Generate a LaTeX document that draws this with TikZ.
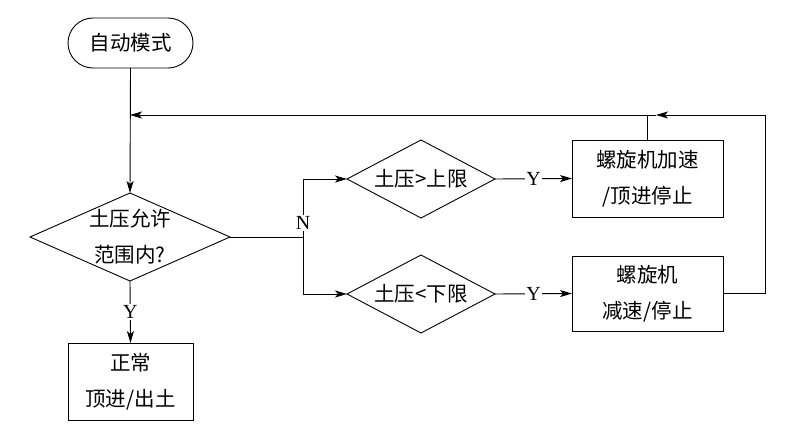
\documentclass[tikz,border=0pt]{standalone}
\usepackage{fontspec}
\setmainfont{Liberation Serif}
\newfontfamily\cjk{Noto Sans CJK SC}
\usetikzlibrary{shapes.geometric,arrows.meta}
\begin{document}
\begin{tikzpicture}[x=1pt,y=-1pt,
  line width=0.9pt,
  every node/.style={inner sep=0pt, outer sep=0pt},
  txt/.style={font=\cjk\fontsize{20.5}{36}\selectfont, align=center},
  term/.style={draw, rounded corners=25pt, minimum width=125pt, minimum height=50pt, txt},
  proc/.style={draw, minimum width=151pt, minimum height=77pt, txt},
  dec/.style={draw, diamond, minimum width=148pt, minimum height=78pt, aspect=1.9},
  arr/.style={-{Stealth[length=12pt,width=7pt,inset=3pt]}},
  lab/.style={fill=white, font=\fontsize{20}{20}\selectfont, inner sep=1pt}]
\useasboundingbox (0,0) rectangle (803,447);
\node[term] (start) at (130.5,43) {自动模式};
\node[dec, minimum width=200pt, minimum height=88pt, aspect=2.27,
  label={[txt]center:土压允许\\范围内?}] (d1) at (130,237) {};
\node[proc, minimum width=125pt] (b1) at (130.5,381.5) {正常\\顶进/出土};
\node[dec, label={[txt]center:土压>上限}] (d2) at (421,179) {};
\node[dec, label={[txt]center:土压<下限}] (d3) at (421,294) {};
\node[proc] (b2) at (647.5,178.5) {螺旋机加速\\/顶进停止};
\node[proc, minimum height=75pt] (b3) at (647.5,293.5) {螺旋机\\减速/停止};
\coordinate (nx) at (303,237);
\coordinate (fbR) at (765,115);
\coordinate (fbM) at (656,115);
\coordinate (fbJ) at (130,115);
% main flow
\draw[arr] (start.south) -- (d1.north);
\draw[arr] (d1.south) -- node[lab]{Y} (b1.north);
% N branch
\draw (d1.east) -- (nx);
\draw[arr] (nx) |- (d2.west);
\draw[arr] (nx) |- (d3.west);
\node[lab] at (303,223) {N};
\draw[arr] (d2.east) -- node[lab]{Y} (b2.west);
\draw[arr] (d3.east) -- node[lab]{Y} (b3.west);
% feedback
\draw[arr] (b3.east) -| (fbR) -- (fbM);
\draw[arr] (fbM) -- (fbJ);
\draw (b2.north) -- (b2.north |- fbR);
\end{tikzpicture}
\end{document}
